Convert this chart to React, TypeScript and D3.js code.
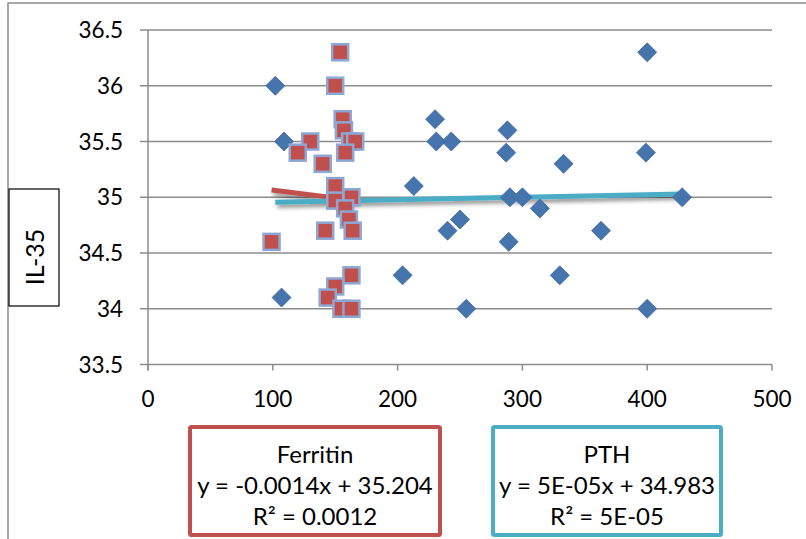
import React from "react";
import * as d3 from "d3";

// PTH (x) vs IL-35 (y)
const pthX = [102, 109, 107, 230, 231, 243, 213, 250, 240, 204, 255, 400, 288, 287, 399, 333, 290, 300, 314, 428, 363, 289, 330, 400];
const pthY = [36.0, 35.5, 34.1, 35.7, 35.5, 35.5, 35.1, 34.8, 34.7, 34.3, 34.0, 36.3, 35.6, 35.4, 35.4, 35.3, 35.0, 35.0, 34.9, 35.0, 34.7, 34.6, 34.3, 34.0];

// Ferritin (x) vs IL-35 (y)
const ferX = [154, 150, 156, 157, 162, 166, 130, 120, 158, 140, 150, 163, 150, 158, 161, 164, 142, 99, 163, 150, 144, 155, 163];
const ferY = [36.3, 36.0, 35.7, 35.6, 35.5, 35.5, 35.5, 35.4, 35.4, 35.3, 35.1, 35.0, 34.97, 34.9, 34.8, 34.7, 34.7, 34.6, 34.3, 34.2, 34.1, 34.0, 34.0];

// trend line end points (data units)
const ferTrendX = [99, 166];
const ferTrendY = [35.065, 34.972];
const pthTrendX = [102, 428];
const pthTrendY = [34.955, 35.03];

const xTicks = [0, 100, 200, 300, 400, 500];
const yTicks = [33.5, 34, 34.5, 35, 35.5, 36, 36.5];

const ferLabel = ["Ferritin", "y = -0.0014x + 35.204", "R² = 0.0012"];
const pthLabel = ["PTH", "y = 5E-05x + 34.983", "R² = 5E-05"];

const RED = "#C0504D";
const CYAN = "#4BACC6";
const BLUE = "#4674AD";
const GRID = "#8C8C8C";
const FONT = "Lato, 'Open Sans', sans-serif";

export default function App() {
  const x = d3.scaleLinear().domain([0, 500]).range([148, 772]);
  const y = d3.scaleLinear().domain([33.5, 36.5]).range([364.5, 30]);
  const line = d3.line<[number, number]>().x((d) => x(d[0])).y((d) => y(d[1]));
  const diamond = (cx: number, cy: number, r: number) =>
    `M${cx},${cy - r}L${cx + r},${cy}L${cx},${cy + r}L${cx - r},${cy}Z`;

  const legend = (lines: string[], left: number, right: number, color: string) => (
    <g>
      <rect x={left} y={427} width={right - left} height={108} fill="white" stroke={color} strokeWidth={4} rx={1.5} />
      {lines.map((t, i) => (
        <text key={i} x={(left + right) / 2} y={463 + i * 31} textAnchor="middle" fontSize={24} fill="#000">
          {t}
        </text>
      ))}
    </g>
  );

  return (
    <svg width={806} height={539} style={{ position: "absolute", left: 0, top: 0, fontFamily: FONT }}>
      <defs>
        <filter id="sh" x="-10%" y="-300%" width="120%" height="700%">
          <feDropShadow dx={2} dy={3} stdDeviation={2} floodColor="#000" floodOpacity={0.45} />
        </filter>
      </defs>
      <rect x={0} y={0} width={806} height={539} fill="white" />
      {/* outer frame */}
      <path d="M8,539L8,3L806,3" fill="none" stroke={GRID} strokeWidth={1.5} />

      {/* gridlines */}
      {yTicks.slice(1).map((t) => (
        <line key={t} x1={x(0)} x2={x(500)} y1={y(t)} y2={y(t)} stroke={GRID} strokeWidth={1.5} />
      ))}
      {/* axes */}
      <line x1={x(0)} x2={x(0)} y1={y(36.5)} y2={y(33.5) + 6} stroke={GRID} strokeWidth={1.5} />
      <line x1={x(0)} x2={x(500)} y1={y(33.5)} y2={y(33.5)} stroke={GRID} strokeWidth={1.5} />
      {yTicks.map((t) => (
        <g key={t}>
          <line x1={x(0) - 8} x2={x(0)} y1={y(t)} y2={y(t)} stroke={GRID} strokeWidth={1.5} />
          <text x={123} y={y(t)} dy="0.36em" textAnchor="end" fontSize={22.5} fill="#000">
            {String(t)}
          </text>
        </g>
      ))}
      {xTicks.map((t) => (
        <g key={t}>
          <line x1={x(t)} x2={x(t)} y1={y(33.5)} y2={y(33.5) + 6} stroke={GRID} strokeWidth={1.5} />
          <text x={x(t)} y={407} textAnchor="middle" fontSize={22.5} fill="#000">
            {String(t)}
          </text>
        </g>
      ))}

      {/* y axis title */}
      <rect x={9} y={189} width={50} height={117} fill="white" stroke="#000" strokeWidth={1.2} />
      <text transform={`translate(43.5,257) rotate(-90)`} textAnchor="middle" fontSize={25} fill="#000">
        IL-35
      </text>

      {/* trend lines */}
      <path d={line(ferTrendX.map((v, i) => [v, ferTrendY[i]]) as any) || ""} stroke={RED} strokeWidth={5} fill="none" filter="url(#sh)" />
      <path d={line(pthTrendX.map((v, i) => [v, pthTrendY[i]]) as any) || ""} stroke={CYAN} strokeWidth={5} fill="none" filter="url(#sh)" />

      {/* PTH diamonds */}
      {pthX.map((v, i) => (
        <path key={i} d={diamond(x(v), y(pthY[i]), 9.5)} fill={BLUE} stroke="#3F6AA0" strokeWidth={0.8} />
      ))}
      {/* Ferritin squares */}
      {ferX.map((v, i) => (
        <rect key={i} x={x(v) - 8} y={y(ferY[i]) - 8} width={16} height={16} fill={RED} stroke="#8DA6D3" strokeWidth={2.5} />
      ))}

      {legend(ferLabel, 190, 440, RED)}
      {legend(pthLabel, 493, 721, CYAN)}
    </svg>
  );
}
